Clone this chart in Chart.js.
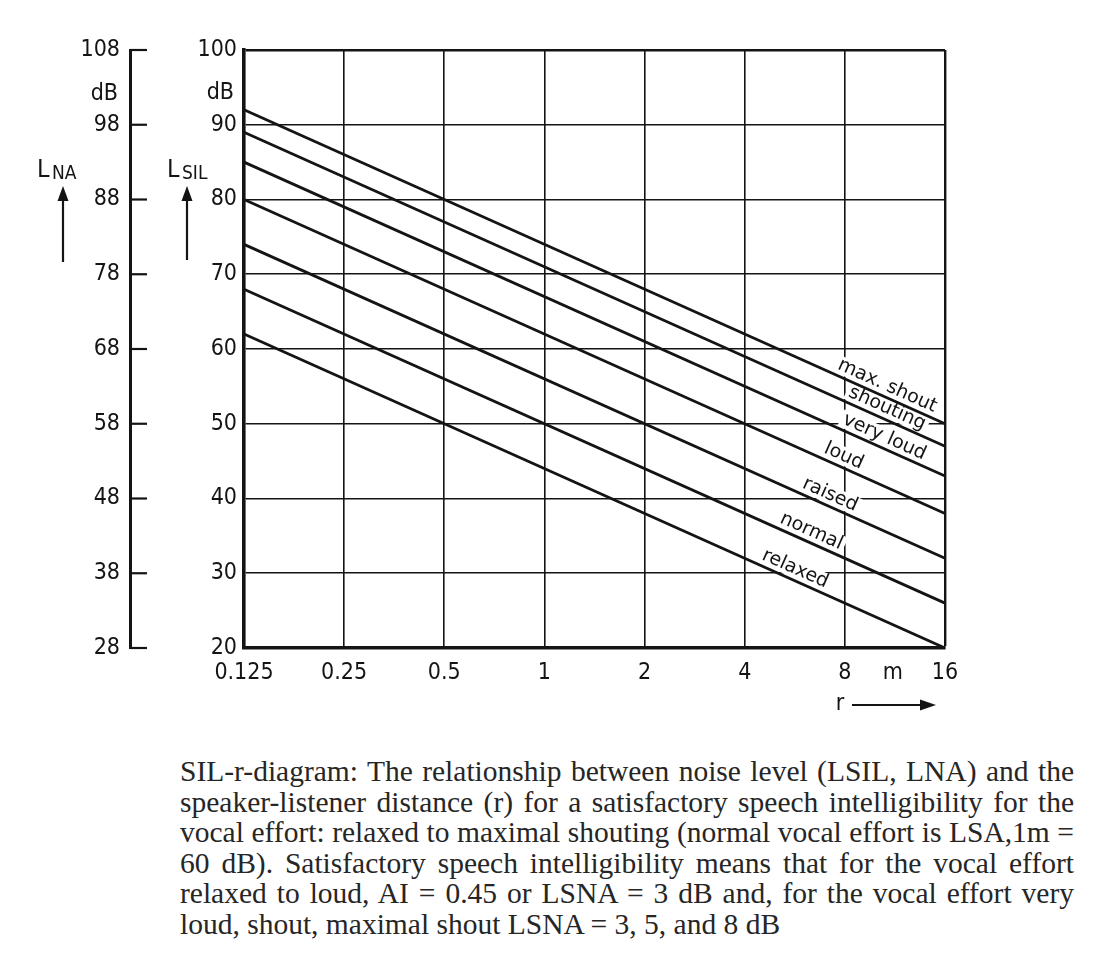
<!DOCTYPE html>
<html>
<head>
<meta charset="utf-8">
<script src="https://cdn.jsdelivr.net/npm/chart.js@4"></script>
<style>
  html, body { margin: 0; padding: 0; background: #fff; }
  body { width: 1118px; height: 971px; position: relative; overflow: hidden; }
  #wrap { position: absolute; left: 0; top: 0; width: 1118px; height: 735px; }
  #caption {
    position: absolute; left: 180px; top: 756px; width: 894px;
    font-family: "Liberation Serif", "Times New Roman", serif;
    font-size: 29.5px; line-height: 30.5px; color: #262626;
  }
  #caption div { text-align: justify; text-align-last: justify; white-space: nowrap; }
  #caption div.last { text-align-last: left; }
</style>
</head>
<body>
<div id="wrap"><canvas id="c"></canvas></div>
<div id="caption">
  <div>SIL-r-diagram: The relationship between noise level (LSIL, LNA) and the</div>
  <div>speaker-listener distance (r) for a satisfactory speech intelligibility for the</div>
  <div>vocal effort: relaxed to maximal shouting (normal vocal effort is LSA,1m =</div>
  <div>60 dB). Satisfactory speech intelligibility means that for the vocal effort</div>
  <div>relaxed to loud, AI = 0.45 or LSNA = 3 dB and, for the vocal effort very</div>
  <div class="last">loud, shout, maximal shout LSNA = 3, 5, and 8 dB</div>
</div>
<script>
// Speaker-listener distance r in metres (end points of each line)
const distances = [0.125, 16];
// Distance tick labels on the log axis
const distanceTicks = [0.125, 0.25, 0.5, 1, 2, 4, 8, 16];

// Vocal effort names, top line first
const efforts = ['max. shout', 'shouting', 'very loud', 'loud', 'raised', 'normal', 'relaxed'];

// Permissible L_SIL (dB) at r = 0.125 m and r = 16 m for each vocal effort
const maxShout = [92, 50];
const shouting = [89, 47];
const veryLoud = [85, 43];
const loud     = [80, 38];
const raised   = [74, 32];
const normal   = [68, 26];
const relaxed  = [62, 20];

// L_NA axis runs 8 dB above the L_SIL axis
const silRange = [20, 100];
const naOffset = 8;

// Distance along each line where its name is written
const labelAtR = [10.4, 10.4, 10.2, 7.7, 7.0, 6.15, 5.5];

const seriesValues = [maxShout, shouting, veryLoud, loud, raised, normal, relaxed];
const INK = '#141414';
const TICK_FONT = '"DejaVu Sans Condensed", "DejaVu Sans", sans-serif';

function toPoints(vals) {
  return distances.map((r, i) => ({ x: r, y: vals[i] }));
}

function arrow(ctx, x1, y1, x2, y2, head, half) {
  const a = Math.atan2(y2 - y1, x2 - x1);
  const bx = x2 - Math.cos(a) * head, by = y2 - Math.sin(a) * head;
  ctx.beginPath();
  ctx.moveTo(x1, y1);
  ctx.lineTo(bx, by);
  ctx.stroke();
  ctx.beginPath();
  ctx.moveTo(x2, y2);
  ctx.lineTo(bx + Math.sin(a) * half, by - Math.cos(a) * half);
  ctx.lineTo(bx - Math.sin(a) * half, by + Math.cos(a) * half);
  ctx.closePath();
  ctx.fill();
}

// Names of the vocal efforts, written along the lines on a white ground
const effortLabels = {
  id: 'effortLabels',
  beforeDatasetsDraw(chart) {
    const { ctx } = chart;
    const xs = chart.scales.x, ys = chart.scales.y;
    ctx.save();
    ctx.font = '19px "DejaVu Sans", sans-serif';
    const items = chart.data.datasets.map((ds, i) => {
      const p0 = ds.data[0], p1 = ds.data[ds.data.length - 1];
      const x0 = xs.getPixelForValue(p0.x), y0 = ys.getPixelForValue(p0.y);
      const x1 = xs.getPixelForValue(p1.x), y1 = ys.getPixelForValue(p1.y);
      const ang = Math.atan2(y1 - y0, x1 - x0);
      const px = xs.getPixelForValue(labelAtR[i]);
      const py = y0 + (px - x0) * (y1 - y0) / (x1 - x0);
      const off = 11;
      return { text: ds.label, ang, cx: px + Math.sin(ang) * off, cy: py - Math.cos(ang) * off };
    });
    // white grounds first so that no ground covers another name
    items.forEach(it => {
      const w = ctx.measureText(it.text).width;
      ctx.save();
      ctx.translate(it.cx, it.cy);
      ctx.rotate(it.ang);
      ctx.fillStyle = '#fff';
      ctx.fillRect(-w / 2 - 3, -9, w + 6, 18);
      ctx.restore();
    });
    items.forEach(it => {
      ctx.save();
      ctx.translate(it.cx, it.cy);
      ctx.rotate(it.ang);
      ctx.fillStyle = INK;
      ctx.textAlign = 'center';
      ctx.textBaseline = 'middle';
      ctx.fillText(it.text, 0, 0);
      ctx.restore();
    });
    ctx.restore();
  }
};

// Axis units, symbols, arrows and the ticks of the L_NA scale
const axisDecor = {
  id: 'axisDecor',
  afterDraw(chart) {
    const { ctx, chartArea } = chart;
    const ys = chart.scales.y, yn = chart.scales.yNA, xs = chart.scales.x;
    ctx.save();
    ctx.strokeStyle = INK;
    ctx.fillStyle = INK;

    // short ticks to the right of the L_NA line
    ctx.lineWidth = 2.2;
    yn.ticks.forEach(t => {
      const y = yn.getPixelForValue(t.value);
      ctx.beginPath();
      ctx.moveTo(yn.right, y);
      ctx.lineTo(yn.right + 17, y);
      ctx.stroke();
    });

    // dB units
    ctx.font = '23px ' + TICK_FONT;
    ctx.textAlign = 'right';
    ctx.textBaseline = 'middle';
    ctx.fillText('dB', yn.right - 12, chartArea.top + 44);
    ctx.fillText('dB', ys.right - 10, chartArea.top + 43);

    // symbols L_NA and L_SIL
    const base = chartArea.top + 127;
    ctx.textAlign = 'left';
    ctx.textBaseline = 'alphabetic';
    ctx.font = '25px ' + TICK_FONT;
    ctx.fillText('L', yn.right - 93, base);
    ctx.fillText('L', ys.right - 77, base);
    ctx.font = '19px ' + TICK_FONT;
    ctx.fillText('NA', yn.right - 78, base + 2);
    ctx.fillText('SIL', ys.right - 62, base + 2);

    // upward arrows under the symbols
    ctx.lineWidth = 2.2;
    arrow(ctx, yn.right - 67, chartArea.top + 212, yn.right - 67, chartArea.top + 136, 15, 5.5);
    arrow(ctx, ys.right - 57, chartArea.top + 210, ys.right - 57, chartArea.top + 136, 15, 5.5);

    // unit of the distance axis and the r arrow
    ctx.font = '23px ' + TICK_FONT;
    ctx.textAlign = 'center';
    ctx.textBaseline = 'middle';
    ctx.fillText('m', xs.getPixelForValue(Math.sqrt(8 * 16)) - 2, chartArea.bottom + 25);
    ctx.fillText('r', chartArea.right - 105, chartArea.bottom + 56);
    ctx.lineWidth = 2.2;
    arrow(ctx, chartArea.right - 93, chartArea.bottom + 57, chartArea.right - 9, chartArea.bottom + 57, 16, 5.5);
    ctx.restore();
  }
};

const gridWidth = (edgeValue) => (c) => (c.tick && c.tick.value === edgeValue ? 2.4 : 1.6);

new Chart(document.getElementById('c'), {
  type: 'line',
  data: {
    datasets: efforts.map((name, i) => ({
      label: name,
      data: toPoints(seriesValues[i]),
      borderColor: INK,
      borderWidth: 2.8,
      pointRadius: 0,
      fill: false,
      tension: 0,
      xAxisID: 'x',
      yAxisID: 'y'
    }))
  },
  options: {
    responsive: true,
    maintainAspectRatio: false,
    animation: false,
    events: [],
    layout: { padding: { top: 50, right: 173, bottom: 47, left: 0 } },
    plugins: { legend: { display: false }, tooltip: { enabled: false } },
    scales: {
      x: {
        type: 'logarithmic',
        position: 'bottom',
        min: distanceTicks[0],
        max: distanceTicks[distanceTicks.length - 1],
        afterBuildTicks: (s) => { s.ticks = distanceTicks.map(v => ({ value: v })); },
        afterFit: (s) => { s.height = 40; },
        grid: { color: INK, lineWidth: gridWidth(16), drawTicks: false },
        border: { display: true, color: INK, width: 3.6 },
        ticks: {
          color: INK,
          padding: 11,
          maxRotation: 0,
          autoSkip: false,
          font: { family: TICK_FONT, size: 23 },
          callback: (v) => String(v)
        }
      },
      y: {
        type: 'linear',
        position: 'left',
        weight: 0,
        min: silRange[0],
        max: silRange[1],
        afterFit: (s) => { s.width = 114; },
        grid: { color: INK, lineWidth: gridWidth(100), drawTicks: false },
        border: { display: true, color: INK, width: 3.6 },
        ticks: {
          color: INK,
          stepSize: 10,
          padding: 7,
          font: { family: TICK_FONT, size: 23 }
        }
      },
      yNA: {
        type: 'linear',
        position: 'left',
        weight: 1,
        min: silRange[0] + naOffset,
        max: silRange[1] + naOffset,
        afterFit: (s) => { s.width = 130; },
        grid: { display: false, drawTicks: false },
        border: { display: true, color: INK, width: 3 },
        ticks: {
          color: INK,
          stepSize: 10,
          padding: 10,
          font: { family: TICK_FONT, size: 23 }
        }
      }
    }
  },
  plugins: [effortLabels, axisDecor]
});
</script>
</body>
</html>
